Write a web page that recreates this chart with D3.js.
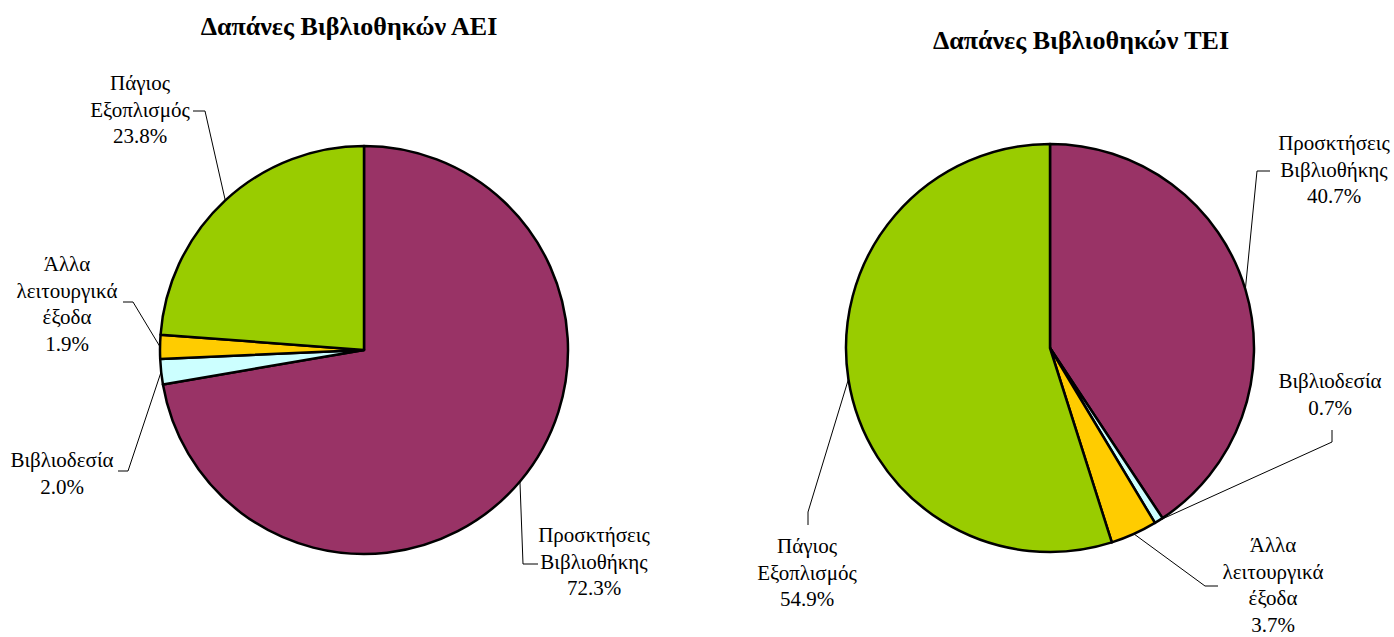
<!DOCTYPE html>
<html>
<head>
<meta charset="utf-8">
<script src="https://cdn.jsdelivr.net/npm/d3@7"></script>
<style>
  body { margin: 0; background: #fff; }
</style>
</head>
<body>
<svg width="1394" height="637"></svg>
<script>
// categories in drawing order (clockwise from 12 o'clock)
var categories = ['Προσκτήσεις Βιβλιοθήκης', 'Βιβλιοδεσία', 'Άλλα λειτουργικά έξοδα', 'Πάγιος Εξοπλισμός']
var labelLines = [['Προσκτήσεις', 'Βιβλιοθήκης'], ['Βιβλιοδεσία'], ['Άλλα', 'λειτουργικά', 'έξοδα'], ['Πάγιος', 'Εξοπλισμός']]
var aeiValues = [72.3, 2.0, 1.9, 23.8]
var teiValues = [40.7, 0.7, 3.7, 54.9]
var colors = ['#993366', '#CCFFFF', '#FFCC00', '#99CC00']
var titles = ['Δαπάνες Βιβλιοθηκών ΑΕΙ', 'Δαπάνες Βιβλιοθηκών ΤΕΙ']

var font = "'Liberation Serif', 'Times New Roman', serif"
var svg = d3.select('svg')
var radius = 204
var lineH = 26.5

// where each chart and its labels sit on the page
var charts = [
    {
        values: aeiValues, title: titles[0], cx: 364, cy: 350, titleX: 349, titleY: 35,
        labels: [
            {x: 594, y: 542, from: [538, 564], bend: [523, 564]},
            {x: 62, y: 467, from: [118, 471], bend: [128, 471]},
            {x: 67, y: 271, from: [123, 302], bend: [133, 302]},
            {x: 140, y: 90, from: [193, 111], bend: [205, 111]}
        ]
    },
    {
        values: teiValues, title: titles[1], cx: 1050, cy: 348, titleX: 1081, titleY: 49,
        labels: [
            {x: 1334, y: 150, from: [1270, 171], bend: [1257, 171]},
            {x: 1330, y: 388, from: [1332, 430], bend: [1332, 442]},
            {x: 1273, y: 552, from: [1218, 586], bend: [1205, 586]},
            {x: 807, y: 553, from: [808, 525], bend: [808, 512]}
        ]
    }
]

var pie = d3.pie().sort(null).value(function(d){ return d })
var arc = d3.arc().innerRadius(0).outerRadius(radius)

charts.forEach(function(c){
    var arcs = pie(c.values)

    svg.append('text')
        .attr('x', c.titleX)
        .attr('y', c.titleY)
        .attr('text-anchor', 'middle')
        .style('font-family', font)
        .style('font-size', '26px')
        .style('font-weight', 'bold')
        .text(c.title)

    var g = svg.append('g')
        .attr('transform', `translate(${c.cx}, ${c.cy})`)

    g.selectAll('path')
        .data(arcs)
        .enter()
        .append('path')
        .attr('d', arc)
        .attr('fill', function(d, i){ return colors[i] })
        .attr('stroke', '#000')
        .attr('stroke-width', 2.5)
        .attr('stroke-linejoin', 'round')

    // leader lines: text -> bend -> slice edge at mid angle
    arcs.forEach(function(d, i){
        var lab = c.labels[i]
        var mid = (d.startAngle + d.endAngle) / 2
        var ex = c.cx + radius * Math.sin(mid)
        var ey = c.cy - radius * Math.cos(mid)
        svg.append('path')
            .attr('d', d3.line()([lab.from, lab.bend, [ex, ey]]))
            .attr('fill', 'none')
            .attr('stroke', '#000')
            .attr('stroke-width', 1)

        var lines = labelLines[i].concat([d3.format('.1f')(d.data) + '%'])
        var t = svg.append('text')
            .attr('text-anchor', 'middle')
            .style('font-family', font)
            .style('font-size', '21px')
        lines.forEach(function(s, k){
            t.append('tspan')
                .attr('x', lab.x)
                .attr('y', lab.y + k * lineH)
                .text(s)
        })
    })
})
</script>
</body>
</html>
